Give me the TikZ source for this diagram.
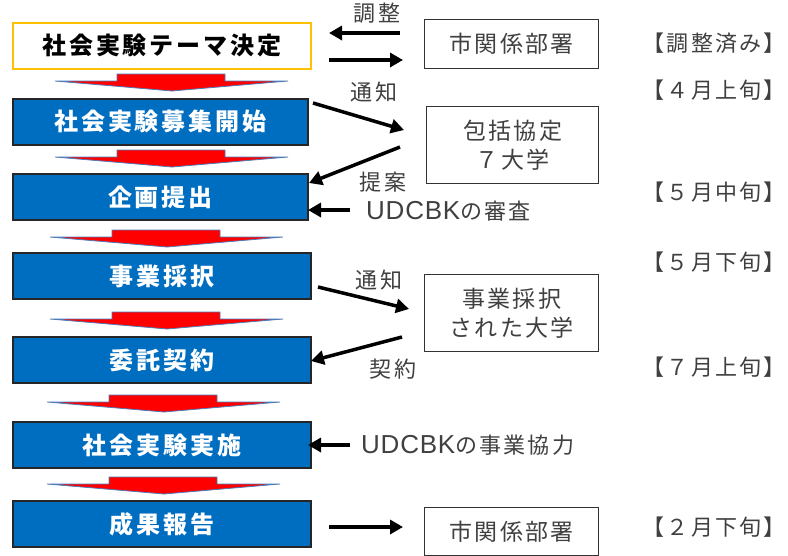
\documentclass[tikz,border=0pt]{standalone}
\usepackage{fontspec}
\usetikzlibrary{arrows.meta}
\newfontfamily\jp{Noto Sans CJK JP}[LetterSpace=12]
\newfontfamily\jplab{Noto Sans CJK JP}[LetterSpace=10]
\newfontfamily\lat{Liberation Sans}[LetterSpace=3]
\definecolor{boxblue}{RGB}{0,110,192}
\definecolor{boxgold}{RGB}{255,192,0}
\definecolor{edgeblue}{RGB}{74,126,187}
\definecolor{txtgray}{RGB}{64,64,64}
\tikzset{
  stepbox/.style={draw=black!85, line width=1.8pt, fill=boxblue, text=white,
    minimum height=46pt, inner sep=0pt, font=\jp\fontsize{24}{26}\selectfont\bfseries},
  firstbox/.style={draw=boxgold, line width=1.6pt, fill=white, text=black,
    minimum height=46pt, inner sep=0pt, font=\jp\fontsize{24}{26}\selectfont\bfseries},
  orgbox/.style={draw=black!80, line width=1.2pt, fill=white, text=txtgray,
    inner sep=0pt, align=center, font=\jplab\fontsize{23}{29}\selectfont},
  lab/.style={text=txtgray, inner sep=0pt, font=\jplab\fontsize{22}{24}\selectfont},
  flowarrow/.style={line width=3.5pt, -{Triangle[length=13pt,width=14pt]}},
  downarrow/.style={fill=red, draw=edgeblue, line width=0.8pt, line join=miter}
}
\newcommand{\redarrow}[2]{% #1 = top y, #2 = x shift
  \draw[downarrow] (117+#2,#1) -- (225+#2,#1) -- (225+#2,#1+7) -- (288+#2,#1+7)
     -- (172+#2,#1+17) -- (55+#2,#1+7) -- (117+#2,#1+7) -- cycle;}
\begin{document}
\begin{tikzpicture}[x=1pt,y=-1pt]
\useasboundingbox[fill=white] (0,0) rectangle (788,555);
% left column
\node[firstbox, minimum width=298pt, anchor=north west] (s1) at (12,22) {社会実験テーマ決定};
\node[stepbox, minimum width=295pt, anchor=north west] (s2) at (12,98) {社会実験募集開始};
\node[stepbox, minimum width=295pt, anchor=north west] (s3) at (12,173) {企画提出};
\node[stepbox, minimum width=298pt, anchor=north west] (s4) at (12,252) {事業採択};
\node[stepbox, minimum width=298pt, anchor=north west] (s5) at (12,336) {委託契約};
\node[stepbox, minimum width=298pt, anchor=north west] (s6) at (12,421) {社会実験実施};
\node[stepbox, minimum width=298pt, anchor=north west] (s7) at (12,500) {成果報告};
% red down arrows
\redarrow{74}{0}
\redarrow{150}{0}
\redarrow{230}{-5}
\redarrow{312}{-5}
\redarrow{395}{-8}
\redarrow{477}{-8}
% right boxes
\node[orgbox, minimum width=174pt, minimum height=49pt, anchor=north west] (o1) at (424,19) {市関係部署};
\node[orgbox, minimum width=172pt, minimum height=77pt, anchor=north west] (o2) at (426,106) {包括協定\\７大学};
\node[orgbox, minimum width=174pt, minimum height=77pt, anchor=north west] (o3) at (424,274) {事業採択\\された大学};
\node[orgbox, minimum width=174pt, minimum height=48pt, anchor=north west] (o4) at (424,507) {市関係部署};
% connector end points
\coordinate (a1s) at (400,33);  \coordinate (a1e) at (329,33);
\coordinate (a2s) at (329,60);  \coordinate (a2e) at (403,60);
\coordinate (a3s) at (313,103); \coordinate (a3e) at (404,130);
\coordinate (a4s) at (400,147); \coordinate (a4e) at (309,183);
\coordinate (a5s) at (350,210); \coordinate (a5e) at (308,210);
\coordinate (a6s) at (318,287); \coordinate (a6e) at (409,309);
\coordinate (a7s) at (402,337); \coordinate (a7e) at (311,361);
\coordinate (a8s) at (350,445); \coordinate (a8e) at (308,445);
\coordinate (a9s) at (329,527); \coordinate (a9e) at (403,527);
\draw[flowarrow] (a1s) -- (a1e);
\draw[flowarrow] (a2s) -- (a2e);
\draw[flowarrow] (a3s) -- (a3e);
\draw[flowarrow] (a4s) -- (a4e);
\draw[flowarrow] (a5s) -- (a5e);
\draw[flowarrow] (a6s) -- (a6e);
\draw[flowarrow] (a7s) -- (a7e);
\draw[flowarrow] (a8s) -- (a8e);
\draw[flowarrow] (a9s) -- (a9e);
% arrow labels
\node[lab] (l1) at (377,13) {調整};
\node[lab] (l2) at (374,92) {通知};
\node[lab] (l3) at (383,182) {提案};
\node[lab, anchor=west] (l4) at (366,211) {{\lat\fontsize{26}{26}\selectfont UDCBK}の審査};
\node[lab] (l5) at (379,280) {通知};
\node[lab] (l6) at (393,369) {契約};
\node[lab, anchor=west] (l7) at (361,445) {{\lat\fontsize{26}{26}\selectfont UDCBK}の事業協力};
% schedule
\node[lab, anchor=east] (t1) at (786,43) {【調整済み】};
\node[lab, anchor=east] (t2) at (786,90) {【４月上旬】};
\node[lab, anchor=east] (t3) at (786,192) {【５月中旬】};
\node[lab, anchor=east] (t4) at (786,262) {【５月下旬】};
\node[lab, anchor=east] (t5) at (786,367) {【７月上旬】};
\node[lab, anchor=east] (t6) at (786,527) {【２月下旬】};
\end{tikzpicture}
\end{document}
